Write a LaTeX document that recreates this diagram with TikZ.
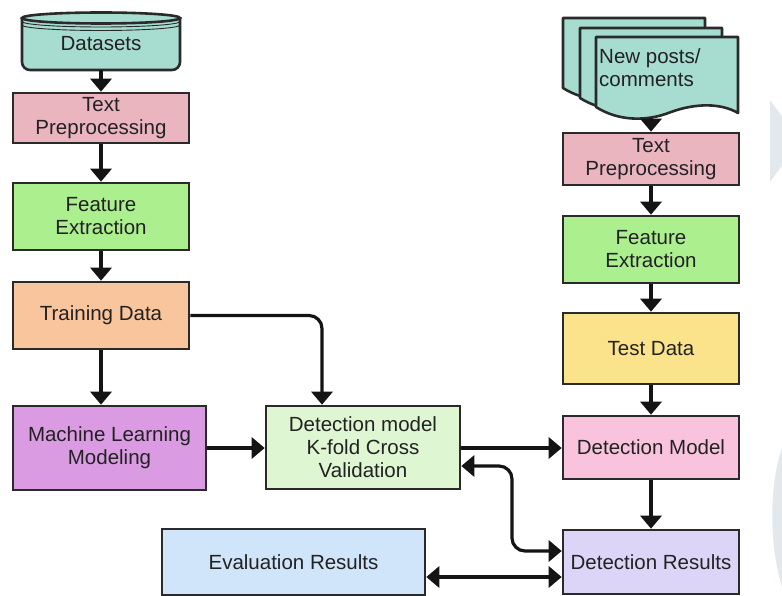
\documentclass[tikz,border=0pt]{standalone}
\usepackage{fontspec}
\setmainfont{Liberation Sans}
\usetikzlibrary{arrows.meta}
\definecolor{bordc}{HTML}{2A2A2A}
\definecolor{txtc}{HTML}{222222}
\definecolor{tealc}{HTML}{A6DDD0}
\definecolor{tpc}{HTML}{EBB5C0}
\definecolor{fec}{HTML}{ABEF8F}
\definecolor{tdc}{HTML}{F9C59C}
\definecolor{mlc}{HTML}{DA9BE2}
\definecolor{kfc}{HTML}{DEF6D2}
\definecolor{testc}{HTML}{FBE38C}
\definecolor{dmc}{HTML}{F9C3DE}
\definecolor{drc}{HTML}{DDD5F7}
\definecolor{evc}{HTML}{D0E5F9}
\definecolor{faintc}{HTML}{E3E8EC}
\begin{document}
\begin{tikzpicture}[x=1pt,y=-1pt,
  txt/.style={text=txtc, font=\fontsize{20.5}{23}\selectfont, align=center, inner sep=0pt},
  box/.style={txt, draw=bordc, line width=2.6pt, minimum width=176pt},
  conn/.style={line width=3.2pt, draw=black!92, -{Triangle[width=21pt,length=13pt]}},
  bconn/.style={line width=3.2pt, draw=black!92, {Triangle[width=21pt,length=13pt]}-{Triangle[width=21pt,length=13pt]}}
]
\useasboundingbox (0,0) rectangle (782,596);
\clip (0,0) rectangle (782,596);
\fill[white] (0,0) rectangle (782,596);

% faint background shapes at right edge
\fill[faintc] (770,100) -- (800,141) -- (770,182) -- cycle;
\fill[faintc] (785,440) .. controls (768,480) and (768,550) .. (785,596) -- cycle;

% Datasets cylinder
\draw[line width=2.6pt, draw=bordc, fill=tealc, rounded corners=8pt] (22,18) -- (22,70) -- (180,70) -- (180,18);
\draw[line width=2.6pt, draw=bordc, fill=tealc] (101,18) ellipse[x radius=79, y radius=5.5];
\draw[line width=0.9pt, draw=bordc] (22,21.5) arc[start angle=180, end angle=0, x radius=79, y radius=5.5];
\draw[line width=0.9pt, draw=bordc] (22,25) arc[start angle=180, end angle=0, x radius=79, y radius=5.5];
\node[txt] (ds) at (101,44) {Datasets};
\coordinate (dsb) at (101,70);

% Stacked documents
\foreach \dx/\dy in {563/18, 580/28, 596/37}{
  \draw[line width=2.6pt, draw=bordc, fill=tealc, line join=round]
    (\dx,\dy) -- ({\dx+142},\dy) -- ({\dx+142},{\dy+76})
    .. controls ({\dx+125},{\dy+66}) and ({\dx+100},{\dy+66}) .. ({\dx+75},{\dy+75})
    .. controls ({\dx+50},{\dy+85}) and ({\dx+22},{\dy+84}) .. (\dx,{\dy+70}) -- cycle;
}
\node[txt, align=left, anchor=west] (docs) at (599,68) {New posts/\\comments};
\coordinate (docb) at (651,118);

% Left column
\node[box, fill=tpc, minimum height=50pt] (tp1) at (101,118) {Text\\Preprocessing};
\node[box, fill=fec, minimum height=67pt] (fe1) at (101,216.5) {Feature\\Extraction};
\node[box, fill=tdc, minimum height=67pt] (td) at (101,315.5) {Training Data};
\node[box, fill=mlc, minimum width=193pt, minimum height=84pt] (ml) at (109.5,448) {Machine Learning\\Modeling};
\node[box, fill=kfc, minimum width=194pt, minimum height=83pt] (kf) at (363,447.5) {Detection model\\K-fold Cross\\Validation};
\node[box, fill=evc, minimum width=263pt, minimum height=66pt] (ev) at (293.5,562) {Evaluation Results};

% Right column
\node[box, fill=tpc, minimum height=52pt] (tp2) at (651,159) {Text\\Preprocessing};
\node[box, fill=fec, minimum height=67pt] (fe2) at (651,249.5) {Feature\\Extraction};
\node[box, fill=testc, minimum height=71pt] (test) at (651,348.5) {Test Data};
\node[box, fill=dmc, minimum height=63pt] (dm) at (651,447.5) {Detection Model};
\node[box, fill=drc, minimum height=64pt] (dr) at (651,562) {Detection Results};

% Connectors
\draw[conn] (dsb) -- (tp1);
\draw[conn] (tp1) -- (fe1);
\draw[conn] (fe1) -- (td);
\draw[conn] (td.south -| 101,0) -- (ml.north -| td.south);
\draw[conn, rounded corners=13pt] (td.east) -- (322,315.5) -- (kf.north -| 322,0);
\draw[conn] (ml.east) -- (ml.east -| kf.west);
\draw[conn] (kf.east |- 0,448) -- (dm.west |- 0,448);
\draw[bconn, rounded corners=13pt] (kf.east |- 0,466) -- (512,466) -- (512,551) -- (dr.west |- 0,551);
\draw[bconn] (ev.east |- 0,577) -- (dr.west |- 0,577);

\draw[conn] (docb) -- (tp2);
\draw[conn] (tp2) -- (fe2);
\draw[conn] (fe2) -- (test);
\draw[conn] (test) -- (dm);
\draw[conn] (dm) -- (dr);
\end{tikzpicture}
\end{document}
